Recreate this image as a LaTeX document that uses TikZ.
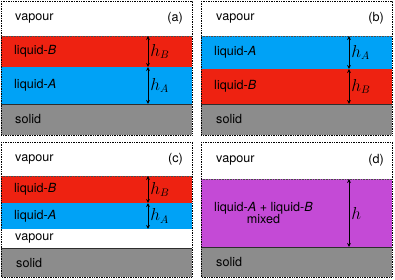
\documentclass[tikz,border=0pt]{standalone}
\usepackage{fontspec}
\setmainfont{TeX Gyre Heros}
\definecolor{liquidred}{RGB}{238, 34, 17}
\definecolor{liquidblue}{RGB}{0, 162, 246}
\definecolor{mixpurple}{RGB}{196, 74, 214}
\definecolor{solidgray}{RGB}{140, 140, 140}
\definecolor{soliddark}{RGB}{45, 45, 45}
\usepackage{tikz}
\usetikzlibrary{arrows.meta, positioning}

\begin{document}
\begin{tikzpicture}[
    layer/.style={minimum width=191pt, inner sep=0pt, outer sep=0pt, anchor=north},
    vap/.style={layer, fill=white},
    liqA/.style={layer, fill=liquidblue},
    liqB/.style={layer, fill=liquidred},
    mix/.style={layer, fill=mixpurple},
    sol/.style={layer, fill=solidgray},
    lbl/.style={font=\fontsize{12.6}{12}\selectfont, inner sep=0pt},
    harrow/.style={{Stealth[length=4pt, width=3.8pt]}-{Stealth[length=4pt, width=3.8pt]}, line width=0.9pt},
    hlbl/.style={font=\fontsize{16}{18}\selectfont, right, inner sep=2pt},
    liqtop/.style={densely dotted, line width=0.6pt, black!70},
    soltop/.style={line width=0.9pt, soliddark},
    frame/.style={densely dotted, line width=0.7pt, black}
]
  \useasboundingbox (0pt,0pt) rectangle (395pt,-280pt);

  % Panel (a): B on top of A
  \node[vap, anchor=north west, minimum height=35pt] (aV) at (1pt,-1pt) {};
  \node[liqB, minimum height=31pt, below=0pt of aV] (aB) {};
  \node[liqA, minimum height=37pt, below=0pt of aB] (aA) {};
  \node[sol, minimum height=31pt, below=0pt of aA] (aS) {};
  \node[lbl, right=14pt of aV.west] {vapour};
  \node[lbl, left=9pt of aV.east] {(a)};
  \node[lbl, right=13pt of aB.west] {liquid-\textit{B}};
  \node[lbl, right=13pt of aA.west] {liquid-\textit{A}};
  \node[lbl, right=14pt of aS.west] {solid};
  \draw[liqtop] (aB.north west) -- (aB.north east);
  \draw[soltop] (aS.north west) -- (aS.north east);
  \coordinate (ax) at (148pt,0pt);
  \draw[harrow] (aB.north -| ax) -- node[hlbl] {$h_B$} (aB.south -| ax);
  \draw[harrow] (aA.north -| ax) -- node[hlbl] {$h_A$} (aA.south -| ax);
  \draw[frame] (aV.north west) rectangle (aS.south east);

  % Panel (b): A on top of B
  \node[vap, anchor=north west, minimum height=35pt] (bV) at (201pt,-1pt) {};
  \node[liqA, minimum height=33pt, below=0pt of bV] (bA) {};
  \node[liqB, minimum height=35pt, below=0pt of bA] (bB) {};
  \node[sol, minimum height=31pt, below=0pt of bB] (bS) {};
  \node[lbl, right=15pt of bV.west] {vapour};
  \node[lbl, left=8pt of bV.east] {(b)};
  \node[lbl, right=13pt of bA.west] {liquid-\textit{A}};
  \node[lbl, right=13pt of bB.west] {liquid-\textit{B}};
  \node[lbl, right=15pt of bS.west] {solid};
  \draw[liqtop] (bA.north west) -- (bA.north east);
  \draw[soltop] (bS.north west) -- (bS.north east);
  \coordinate (bx) at (349pt,0pt);
  \draw[harrow] (bA.north -| bx) -- node[hlbl] {$h_A$} (bA.south -| bx);
  \draw[harrow] (bB.north -| bx) -- node[hlbl] {$h_B$} (bB.south -| bx);
  \draw[frame] (bV.north west) rectangle (bS.south east);

  % Panel (c): vapour film under the liquids
  \node[vap, anchor=north west, minimum height=34pt] (cV) at (1pt,-142pt) {};
  \node[liqB, minimum height=27pt, below=0pt of cV] (cB) {};
  \node[liqA, minimum height=26pt, below=0pt of cB] (cA) {};
  \node[vap, minimum height=19pt, below=0pt of cA] (cF) {};
  \node[sol, minimum height=29pt, below=0pt of cF] (cS) {};
  \node[lbl, right=14pt of cV.west] {vapour};
  \node[lbl, left=9pt of cV.east] {(c)};
  \node[lbl, right=13pt of cB.west] {liquid-\textit{B}};
  \node[lbl, right=13pt of cA.west] {liquid-\textit{A}};
  \node[lbl, right=14pt of cF.west] {vapour};
  \node[lbl, right=15pt of cS.west] {solid};
  \draw[liqtop] (cB.north west) -- (cB.north east);
  \draw[soltop] (cS.north west) -- (cS.north east);
  \coordinate (cx) at (148pt,0pt);
  \draw[harrow] (cB.north -| cx) -- node[hlbl] {$h_B$} (cB.south -| cx);
  \draw[harrow] (cA.north -| cx) -- node[hlbl] {$h_A$} (cA.south -| cx);
  \draw[frame] (cV.north west) rectangle (cS.south east);

  % Panel (d): mixed layer
  \node[vap, anchor=north west, minimum height=37pt] (dV) at (201pt,-142pt) {};
  \node[mix, minimum height=68pt, below=0pt of dV] (dM) {};
  \node[sol, minimum height=30pt, below=0pt of dM] (dS) {};
  \node[lbl, right=15pt of dV.west] {vapour};
  \node[lbl, left=8pt of dV.east] {(d)};
  \node[lbl, align=center, right=13pt of dM.west] {liquid-\textit{A} + liquid-\textit{B}\\mixed};
  \node[lbl, right=15pt of dS.west] {solid};
  \draw[liqtop] (dM.north west) -- (dM.north east);
  \draw[soltop] (dS.north west) -- (dS.north east);
  \coordinate (dx) at (349pt,0pt);
  \draw[harrow] (dM.north -| dx) -- node[hlbl] {$h$} (dM.south -| dx);
  \draw[frame] (dV.north west) rectangle (dS.south east);
\end{tikzpicture}
\end{document}
